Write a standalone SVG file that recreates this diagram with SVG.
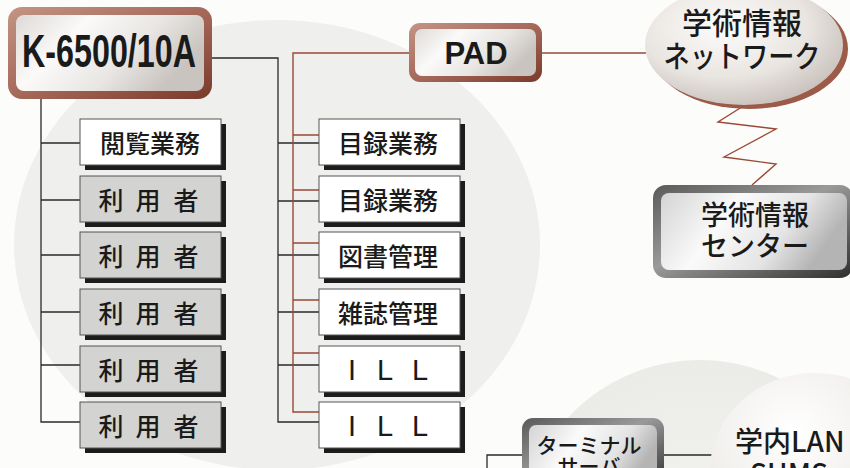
<svg xmlns="http://www.w3.org/2000/svg" width="850" height="468" viewBox="0 0 850 468">
<defs>
<linearGradient id="brownB" x1="0" y1="0" x2="1" y2="1">
<stop offset="0" stop-color="#c39484"/><stop offset="0.5" stop-color="#a5695a"/><stop offset="1" stop-color="#7a3a2c"/>
</linearGradient>
<linearGradient id="greyB" x1="0" y1="0" x2="1" y2="1">
<stop offset="0" stop-color="#5a5a5a"/><stop offset="0.45" stop-color="#9a9a9a"/><stop offset="1" stop-color="#2e2e2e"/>
</linearGradient>
<linearGradient id="silver" x1="0" y1="0" x2="1" y2="0.4">
<stop offset="0" stop-color="#dedad6"/><stop offset="0.35" stop-color="#fbfaf9"/><stop offset="0.7" stop-color="#e8e5e2"/><stop offset="1" stop-color="#c9c4c0"/>
</linearGradient>
<linearGradient id="silverG" x1="0" y1="0" x2="1" y2="0.3">
<stop offset="0" stop-color="#d4d4d4"/><stop offset="0.4" stop-color="#fafafa"/><stop offset="0.75" stop-color="#e4e4e4"/><stop offset="1" stop-color="#b4b4b4"/>
</linearGradient>
<radialGradient id="oval" cx="0.4" cy="0.35" r="0.7">
<stop offset="0" stop-color="#fdfcfb"/><stop offset="0.6" stop-color="#e9e5e1"/><stop offset="1" stop-color="#c7bfba"/>
</radialGradient>
<radialGradient id="sphere" cx="0.4" cy="0.3" r="0.7">
<stop offset="0" stop-color="#ffffff"/><stop offset="0.6" stop-color="#f1efec"/><stop offset="1" stop-color="#d9d5d0"/>
</radialGradient>
<radialGradient id="bgc" cx="0.5" cy="0.5" r="0.5">
<stop offset="0" stop-color="#f3f3f1"/><stop offset="1" stop-color="#ebebe8"/>
</radialGradient>
<style>
.dk{stroke:#2a2a2a;stroke-width:1.3;fill:none}
.br{stroke:#9a4a35;stroke-width:1.4;fill:none}
.sh{fill:#1c1c1c}
.bw{fill:#ffffff;stroke:#555;stroke-width:1}
.bg{fill:#d3d3d1;stroke:#555;stroke-width:1}
.jp{font-family:"Noto Sans CJK JP","Noto Sans",sans-serif;font-weight:500;fill:#1a1a1a;text-anchor:middle}
.jps{font-family:"Noto Sans CJK JP","Noto Sans",sans-serif;font-weight:500;fill:#1a1a1a}
.ill{font-family:"Liberation Sans",Arial,sans-serif;font-size:29px;fill:#1a1a1a;text-anchor:middle}
.t25{font-size:25px}
</style>
</defs>
<rect width="850" height="468" fill="#fcfcfb"/>
<ellipse cx="277" cy="245" rx="263" ry="225" fill="#efefed"/>
<circle cx="700" cy="540" r="180" fill="url(#bgc)"/>

<g id="connectors">
<path class="dk" d="M212 58H278V422H319M278 143H319M278 201H319M278 255H319M278 312H319M278 365H319"/>
<path class="dk" d="M41 99V422H80M41 143H80M41 200H80M41 255H80M41 312H80M41 365H80"/>
<path class="dk" d="M487 468V455H522M664 455H712"/>
<path class="br" d="M409 53H293V412H319M293 135H319M293 190H319M293 243H319M293 300H319M293 353H319"/>
<path class="br" d="M542 53H646"/>
<polyline class="br" points="745,105 718,122 776,129 724,157 776,164 752,185"/>
</g>

<g id="k6500">
<rect x="8" y="7" width="204" height="92" rx="14" fill="url(#brownB)"/>
<rect x="16" y="15" width="188" height="76" rx="8" fill="url(#silver)"/>
<text x="22" y="67" font-family="Liberation Sans, Arial, sans-serif" font-weight="bold" font-size="46" fill="#1a1a1a" textLength="174" lengthAdjust="spacingAndGlyphs">K-6500/10A</text>
</g>

<g id="pad">
<rect x="409" y="23" width="133" height="59" rx="11" fill="url(#brownB)"/>
<rect x="415" y="29" width="121" height="47" rx="7" fill="url(#silver)"/>
<text x="476" y="64" font-family="Liberation Sans, Arial, sans-serif" font-weight="bold" font-size="31" fill="#1a1a1a" text-anchor="middle">PAD</text>
</g>

<g id="network">
<ellipse cx="749" cy="49" rx="99" ry="60" fill="#9c5a48"/>
<ellipse cx="744" cy="45" rx="99" ry="60" fill="url(#oval)"/>
<text class="jp" x="742" y="34" font-size="30">学術情報</text>
<text class="jp" x="742" y="67" font-size="30" textLength="157" lengthAdjust="spacingAndGlyphs">ネットワーク</text>
</g>

<g id="center">
<rect x="653" y="185" width="200" height="93" rx="13" fill="url(#greyB)"/>
<rect x="661" y="193" width="186" height="77" rx="8" fill="url(#silverG)"/>
<text class="jp" x="755" y="225" font-size="27">学術情報</text>
<text class="jp" x="755" y="256" font-size="27">センター</text>
</g>

<g id="terminal">
<rect x="522" y="418" width="142" height="70" rx="11" fill="url(#greyB)"/>
<rect x="529" y="425" width="128" height="60" rx="7" fill="url(#silverG)"/>
<text class="jp" x="589" y="453" font-size="21">ターミナル</text>
<text class="jp" x="589" y="474" font-size="21">サーバ</text>
</g>

<g id="lan">
<ellipse cx="815" cy="470" rx="105" ry="97" fill="url(#sphere)"/>
<text class="jps" x="735" y="452" font-size="28">学内LAN</text>
<text class="jp" x="789" y="484" font-size="28">SUMS</text>
</g>

<g id="left-1"><rect class="sh" x="85" y="124" width="141" height="46"/><rect class="bw" x="80" y="119" width="141" height="46"/><text class="jp t25" x="150" y="153">閲覧業務</text></g>
<g id="left-2"><rect class="sh" x="85" y="181" width="141" height="46"/><rect class="bg" x="80" y="176" width="141" height="46"/><text class="jp t25" x="111 148 186" y="210">利用者</text></g>
<g id="left-3"><rect class="sh" x="85" y="237" width="141" height="46"/><rect class="bg" x="80" y="232" width="141" height="46"/><text class="jp t25" x="111 148 186" y="266">利用者</text></g>
<g id="left-4"><rect class="sh" x="85" y="294" width="141" height="46"/><rect class="bg" x="80" y="289" width="141" height="46"/><text class="jp t25" x="111 148 186" y="323">利用者</text></g>
<g id="left-5"><rect class="sh" x="85" y="351" width="141" height="46"/><rect class="bg" x="80" y="346" width="141" height="46"/><text class="jp t25" x="111 148 186" y="380">利用者</text></g>
<g id="left-6"><rect class="sh" x="85" y="407" width="141" height="46"/><rect class="bg" x="80" y="402" width="141" height="46"/><text class="jp t25" x="111 148 186" y="436">利用者</text></g>

<g id="mid-1"><rect class="sh" x="324" y="124" width="141" height="46"/><rect class="bw" x="319" y="119" width="141" height="46"/><text class="jp t25" x="388" y="153">目録業務</text></g>
<g id="mid-2"><rect class="sh" x="324" y="181" width="141" height="46"/><rect class="bw" x="319" y="176" width="141" height="46"/><text class="jp t25" x="388" y="210">目録業務</text></g>
<g id="mid-3"><rect class="sh" x="324" y="237" width="141" height="46"/><rect class="bw" x="319" y="232" width="141" height="46"/><text class="jp t25" x="388" y="266">図書管理</text></g>
<g id="mid-4"><rect class="sh" x="324" y="294" width="141" height="46"/><rect class="bw" x="319" y="289" width="141" height="46"/><text class="jp t25" x="388" y="323">雑誌管理</text></g>
<g id="mid-5"><rect class="sh" x="324" y="351" width="141" height="46"/><rect class="bw" x="319" y="346" width="141" height="46"/><text class="ill" x="352 385 420" y="380">ILL</text></g>
<g id="mid-6"><rect class="sh" x="324" y="407" width="141" height="46"/><rect class="bw" x="319" y="402" width="141" height="46"/><text class="ill" x="352 385 420" y="436">ILL</text></g>
</svg>
